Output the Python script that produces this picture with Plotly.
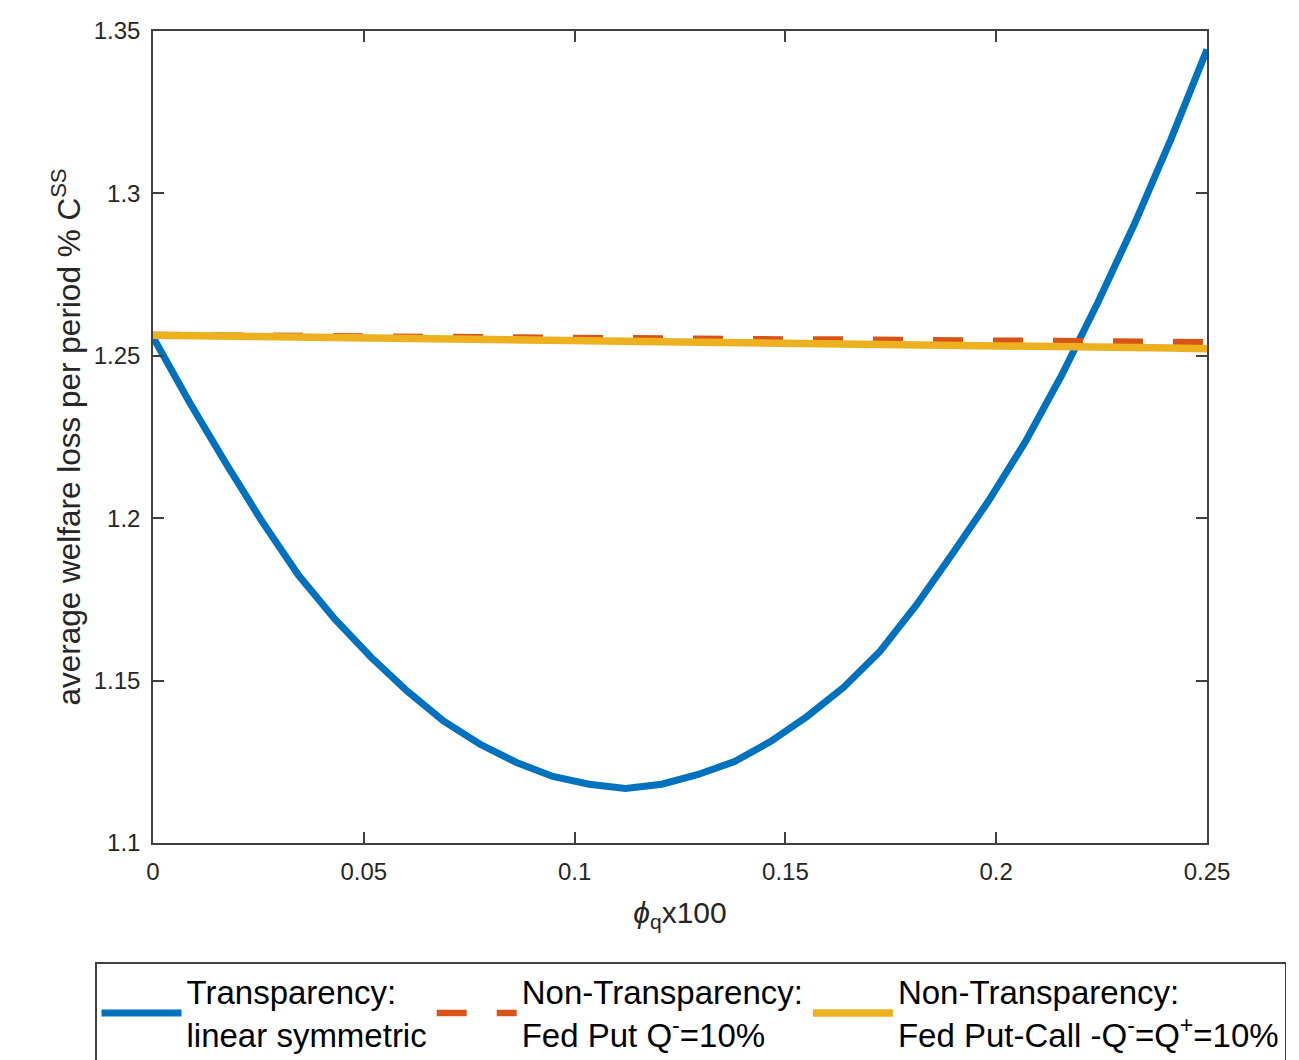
import plotly.graph_objects as go

# ---- data ----
phi_q = [i * 0.25 / 29 for i in range(30)]  # 30 grid points, 0 .. 0.25

transparency = [1.2558, 1.2358, 1.2170, 1.1990, 1.1825, 1.1690, 1.1572, 1.1467,
                1.1375, 1.1304, 1.1248, 1.1205, 1.1181, 1.1168, 1.1181, 1.1211,
                1.1251, 1.1313, 1.1390, 1.1479, 1.1590, 1.1732, 1.1891, 1.2055,
                1.2235, 1.2440, 1.2665, 1.2905, 1.3165, 1.3443]

fed_put = [1.2564, 1.2563, 1.2562, 1.2562, 1.2561, 1.2560, 1.2559, 1.2559,
           1.2558, 1.2557, 1.2556, 1.2556, 1.2555, 1.2554, 1.2553, 1.2553,
           1.2552, 1.2551, 1.2550, 1.2550, 1.2549, 1.2548, 1.2547, 1.2547,
           1.2546, 1.2545, 1.2544, 1.2544, 1.2543, 1.2542]

fed_put_call = [1.2563, 1.2562, 1.2560, 1.2559, 1.2557, 1.2556, 1.2555, 1.2553,
                1.2552, 1.2550, 1.2549, 1.2548, 1.2546, 1.2545, 1.2543, 1.2542,
                1.2541, 1.2539, 1.2538, 1.2536, 1.2535, 1.2534, 1.2532, 1.2531,
                1.2529, 1.2528, 1.2527, 1.2525, 1.2524, 1.2522]

names = ["Transparency:<br>linear symmetric",
         "Non-Transparency:<br>Fed Put Q<sup>-</sup>=10%",
         "Non-Transparency:<br>Fed Put-Call -Q<sup>-</sup>=Q<sup>+</sup>=10%"]

x_ticks = [0, 0.05, 0.1, 0.15, 0.2, 0.25]
x_tick_labels = ["0", "0.05", "0.1", "0.15", "0.2", "0.25"]
y_ticks = [1.1, 1.15, 1.2, 1.25, 1.3, 1.35]
y_tick_labels = ["1.1", "1.15", "1.2", "1.25", "1.3", "1.35"]

FONT = "Liberation Sans, Arial, Helvetica, sans-serif"
AX = "#404040"

# plot-area geometry (figure pixels)
ML, MR, MT, MB = 145, 100, 23, 225
W, H = 1299, 1060
PW, PH = W - ML - MR, H - MT - MB

fig = go.Figure()
fig.add_trace(go.Scatter(x=phi_q, y=transparency, mode="lines", name=names[0],
                         line=dict(color="#0072BD", width=7)))
fig.add_trace(go.Scatter(x=phi_q, y=fed_put, mode="lines", name=names[1],
                         line=dict(color="#D95319", width=6.5, dash="30px,30px")))
fig.add_trace(go.Scatter(x=phi_q, y=fed_put_call, mode="lines", name=names[2],
                         line=dict(color="#EDB120", width=7.5)))

axis_common = dict(showgrid=False, zeroline=False, showline=True, linecolor=AX,
                   linewidth=1.5, mirror="ticks", ticks="inside", ticklen=11,
                   tickwidth=1.5, tickcolor=AX,
                   tickfont=dict(family=FONT, size=24, color="#262626"))

fig.update_xaxes(range=[0, 0.25], tickvals=x_ticks, ticktext=x_tick_labels,
                 ticklabelstandoff=6,
                 title=dict(text="<i>ϕ</i><sub>q</sub>x100",
                            font=dict(family=FONT, size=30, color="#262626"),
                            standoff=18),
                 **axis_common)
fig.update_yaxes(range=[1.1, 1.35], tickvals=y_ticks, ticktext=y_tick_labels,
                 ticklabelstandoff=6,
                 title=dict(text="average welfare loss per period % C<sup>SS</sup>",
                            font=dict(family=FONT, size=31.5, color="#262626"),
                            standoff=4),
                 **axis_common)

fig.update_layout(
    width=W, height=H,
    margin=dict(l=ML, r=MR, t=MT, b=MB, autoexpand=False),
    plot_bgcolor="white", paper_bgcolor="white",
    font=dict(family=FONT, color="black"),
    legend=dict(orientation="h", xref="paper", yref="paper",
                x=(87 - ML) / PW, xanchor="left",
                y=(MT + PH - 954) / PH, yanchor="top",
                bgcolor="white", bordercolor=AX, borderwidth=1.5,
                font=dict(family=FONT, size=33, color="black"),
                itemwidth=80, valign="middle", tracegroupgap=0),
)

fig.write_html("out.html")
